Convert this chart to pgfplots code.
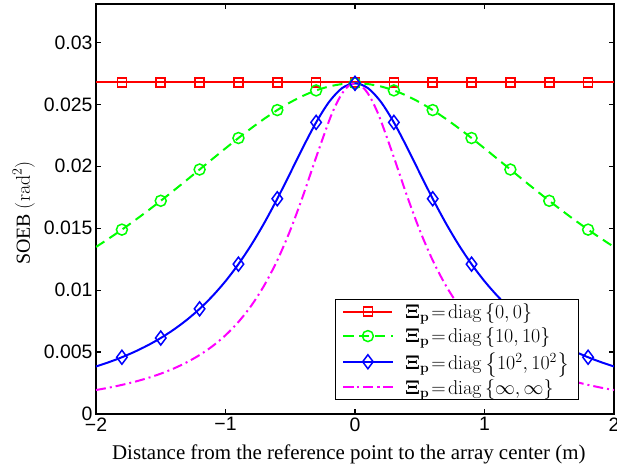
\documentclass[border=0pt]{standalone}
\usepackage{fix-cm}
\usepackage{amsmath}
\usepackage[no-math]{fontspec}
\setmainfont{Liberation Serif}
\setsansfont{Liberation Sans}
\usepackage{pgfplots}
\usepackage{pgfplotstable}
\pgfplotsset{compat=1.18}
\definecolor{mred}{rgb}{1,0,0}
\definecolor{mgreen}{rgb}{0,1,0}
\definecolor{mblue}{rgb}{0,0,1}
\definecolor{mmag}{rgb}{1,0,1}

\pgfplotstableread{
x g b
-2.0 0.013485 0.003836
-1.9 0.014169 0.004186
-1.8 0.014885 0.004582
-1.7 0.015632 0.005032
-1.6 0.016409 0.005546
-1.5 0.017212 0.006134
-1.4 0.018038 0.006811
-1.3 0.018882 0.007589
-1.2 0.019737 0.008488
-1.1 0.020595 0.009526
-1.0 0.021446 0.010723
-0.9 0.022279 0.012098
-0.8 0.023081 0.013667
-0.7 0.023838 0.015433
-0.6 0.024536 0.017378
-0.5 0.025159 0.019454
-0.4 0.025693 0.021560
-0.3 0.026124 0.023543
-0.2 0.026441 0.025198
-0.1 0.026635 0.026308
0.0 0.026700 0.026700
0.1 0.026635 0.026308
0.2 0.026441 0.025198
0.3 0.026124 0.023543
0.4 0.025693 0.021560
0.5 0.025159 0.019454
0.6 0.024536 0.017378
0.7 0.023838 0.015433
0.8 0.023081 0.013667
0.9 0.022279 0.012098
1.0 0.021446 0.010723
1.1 0.020595 0.009526
1.2 0.019737 0.008488
1.3 0.018882 0.007589
1.4 0.018038 0.006811
1.5 0.017212 0.006134
1.6 0.016409 0.005546
1.7 0.015632 0.005032
1.8 0.014885 0.004582
1.9 0.014169 0.004186
2.0 0.013485 0.003836
}\tabGB

\pgfplotstableread{
x m
-2.0 0.001935
-1.9 0.002127
-1.8 0.002349
-1.7 0.002605
-1.6 0.002905
-1.5 0.003256
-1.4 0.003672
-1.3 0.004167
-1.2 0.004761
-1.1 0.005480
-1.0 0.006357
-0.9 0.007433
-0.8 0.008760
-0.7 0.010397
-0.6 0.012407
-0.5 0.014833
-0.4 0.017659
-0.3 0.020730
-0.2 0.023670
-0.15 0.024907
-0.1 0.025872
-0.05 0.026488
0.0 0.026700
0.05 0.026488
0.1 0.025872
0.15 0.024907
0.2 0.023670
0.3 0.020730
0.4 0.017659
0.5 0.014833
0.6 0.012407
0.7 0.010397
0.8 0.008760
0.9 0.007433
1.0 0.006357
1.1 0.005480
1.2 0.004761
1.3 0.004167
1.4 0.003672
1.5 0.003256
1.6 0.002905
1.7 0.002605
1.8 0.002349
1.9 0.002127
2.0 0.001935
}\tabM

\pgfplotstableread{
x r
-2.0 0.02677
-1.9 0.02677
-1.8 0.02677
-1.7 0.02677
-1.6 0.02677
-1.5 0.02677
-1.4 0.02677
-1.3 0.02677
-1.2 0.02677
-1.1 0.02677
-1.0 0.02677
-0.9 0.02677
-0.8 0.02677
-0.7 0.02677
-0.6 0.02677
-0.5 0.02677
-0.4 0.02677
-0.3 0.02677
-0.2 0.02677
-0.1 0.02677
0.0 0.02677
0.1 0.02677
0.2 0.02677
0.3 0.02677
0.4 0.02677
0.5 0.02677
0.6 0.02677
0.7 0.02677
0.8 0.02677
0.9 0.02677
1.0 0.02677
1.1 0.02677
1.2 0.02677
1.3 0.02677
1.4 0.02677
1.5 0.02677
1.6 0.02677
1.7 0.02677
1.8 0.02677
1.9 0.02677
2.0 0.02677
}\tabR

\begin{document}
\begin{tikzpicture}
\path[use as bounding box] (-96bp,-53bp) rectangle (521bp,414bp);
\begin{axis}[
  width=518bp, height=410bp, scale only axis,
  xmin=-2, xmax=2, ymin=0, ymax=0.0331,
  scaled y ticks=false, scaled x ticks=false,
  xtick={-2,-1,0,1,2}, xticklabels={−2,−1,0,1,2},
  ytick={0,0.005,0.01,0.015,0.02,0.025,0.03},
  yticklabels={0,0.005,0.01,0.015,0.02,0.025,0.03},
  minor tick num=0,
  tick align=inside, xtick pos=both, ytick pos=both,
  major tick length=5bp,
  tick style={line width=1.2bp, black},
  axis line style={line width=2.5bp},
  ticklabel style={font=\sffamily\fontsize{19.5}{21}\selectfont},
  /pgf/number format/assume math mode=true,
  xlabel={Distance from the reference point to the array center (m)},
  ylabel={SOEB $(\mathrm{rad}^2)$},
  xlabel style={font=\fontsize{21}{23}\selectfont, at={(axis description cs:0.488,-0.1098)}, anchor=base},
  ylabel style={font=\fontsize{20}{22}\selectfont, at={(axis description cs:-0.1275,0.49)}, anchor=base},
  legend style={at={(axis description cs:0.4614,0.0341)}, anchor=south west,
    draw=black, line width=0.8bp, fill=white,
    font=\fontsize{20}{23}\selectfont, row sep=4bp,
    inner xsep=7bp, inner ysep=2bp,
    nodes={inner sep=2bp},
    /tikz/every odd column/.append style={column sep=9.7bp}},
  legend cell align=left,
  legend image code/.code={\draw[#1, mark repeat=2, mark phase=2] plot coordinates {(0bp,0bp) (24.5bp,0bp) (49bp,0bp)};},
]
\addplot[mred, line width=2bp, mark=square, mark size=4.5bp, mark repeat=3, mark phase=3,
  mark options={solid, line width=1.5bp}] table[x=x, y=r] {\tabR};
\addlegendentry{$\boldsymbol{\Xi}_{\mathbf{p}}\!=\!\mathrm{diag}\left\{0,0\right\}$}
\addplot[mgreen, line width=2bp, dash pattern=on 10bp off 6bp, smooth, mark=o, mark size=5.5bp, mark repeat=3, mark phase=3,
  mark options={solid, line width=1.5bp}] table[x=x, y=g] {\tabGB};
\addlegendentry{$\boldsymbol{\Xi}_{\mathbf{p}}\!=\!\mathrm{diag}\left\{10,10\right\}$}
\addplot[mblue, line width=2bp, smooth, mark=diamond, mark size=7bp, mark repeat=3, mark phase=3,
  mark options={solid, line width=1.5bp}] table[x=x, y=b] {\tabGB};
\addlegendentry{$\boldsymbol{\Xi}_{\mathbf{p}}\!=\!\mathrm{diag}\left\{10^2,10^2\right\}$}
\addplot[mmag, line width=2bp, smooth, dash pattern=on 10bp off 4bp on 2bp off 4bp] table[x=x, y=m] {\tabM};
\addlegendentry{$\boldsymbol{\Xi}_{\mathbf{p}}\!=\!\mathrm{diag}\left\{\infty,\infty\right\}$}
\end{axis}
\end{tikzpicture}
\end{document}
